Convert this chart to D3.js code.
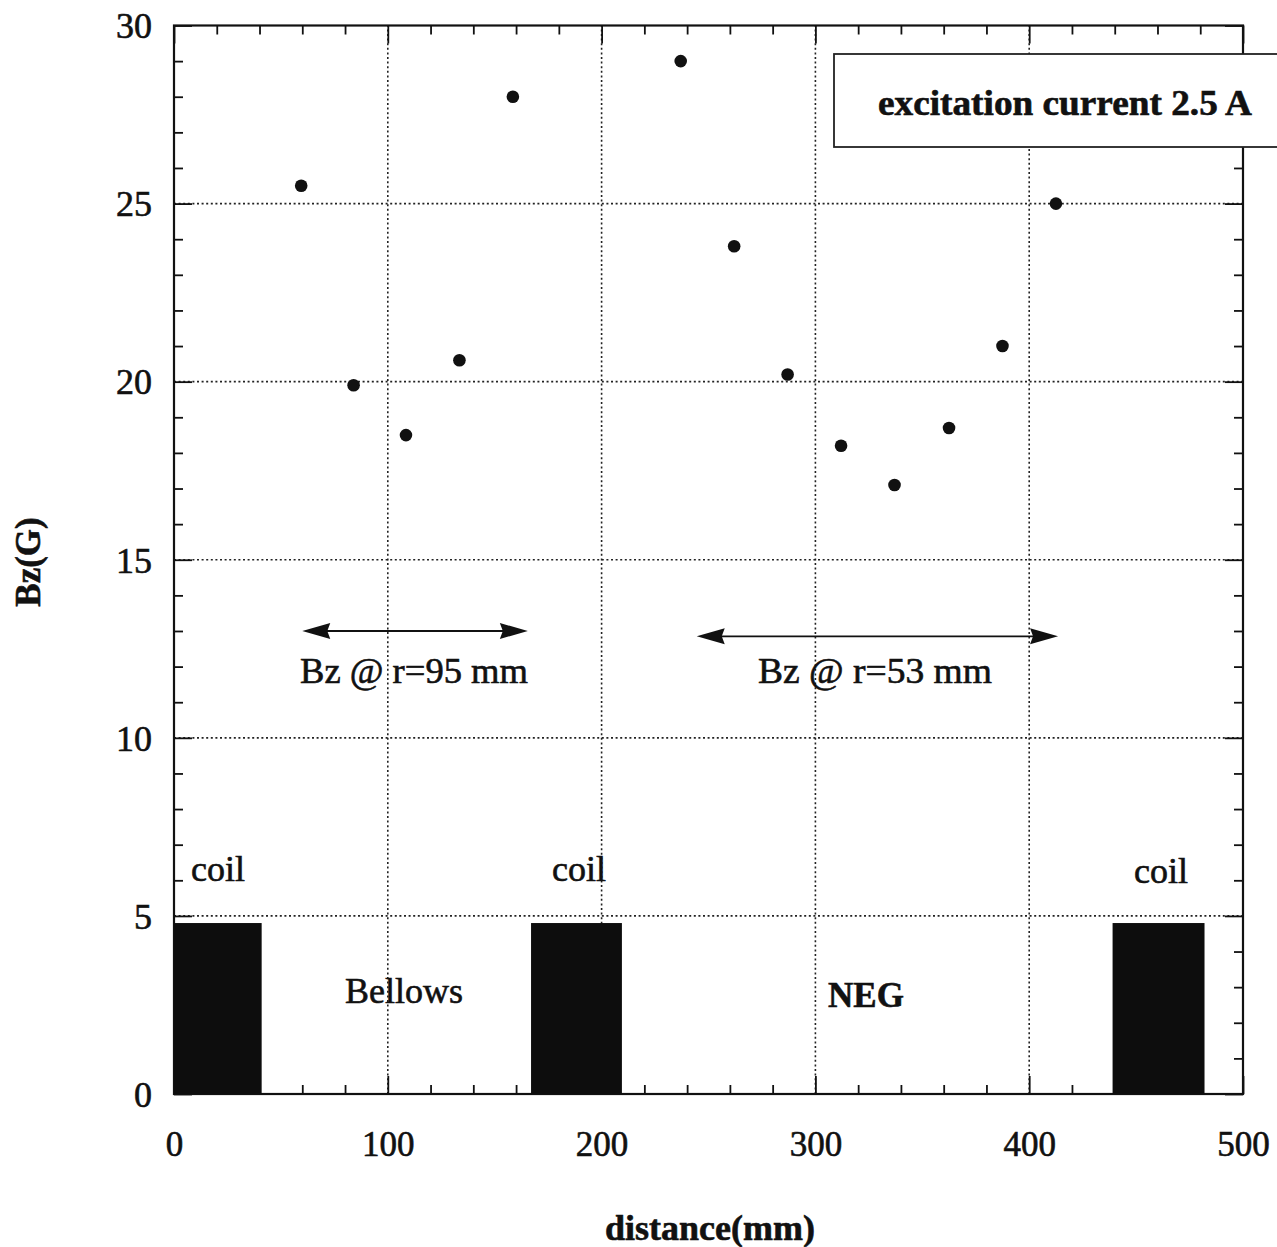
<!DOCTYPE html>
<html>
<head>
<meta charset="utf-8">
<script src="https://cdn.jsdelivr.net/npm/d3@7"></script>
<style>
  html, body { margin: 0; padding: 0; background: #fff; }
  svg { display: block; }
  text { font-family: "Liberation Serif", "Times New Roman", Times, serif; fill: #111; stroke: #111; stroke-width: 0.6px; }
</style>
</head>
<body>
<svg id="chart" width="1277" height="1247"></svg>
<script>
// ---- data ----
const distance = [59.5, 84, 108.5, 133.5, 158.5, 237, 262, 287, 312, 337, 362.5, 387.5, 412.5];
const bz       = [25.5, 19.9, 18.5, 20.6, 28.0, 29.0, 23.8, 20.2, 18.2, 17.1, 18.7, 21.0, 25.0];
const coilStart = [0, 167, 439];
const coilEnd   = [41, 209.5, 482];
const coilTop   = [4.8, 4.8, 4.8];
const xTicks = [0, 100, 200, 300, 400, 500];
const yTicks = [0, 5, 10, 15, 20, 25, 30];
const xMinor = d3.range(0, 501, 20);
const yMinor = d3.range(0, 31, 1);
const arrowFrom = [60, 244.5];
const arrowTo   = [165.5, 413.5];
const arrowY    = [13.0, 12.85];
const arrowLabels = ["Bz @ r=95 mm", "Bz @ r=53 mm"];
const legendText = "excitation current 2.5 A";

// ---- scales ----
const x = d3.scaleLinear().domain([0, 500]).range([174, 1243]);
const y = d3.scaleLinear().domain([0, 30]).range([1094, 25.5]);
const svg = d3.select("#chart");

// grid
const grid = svg.append("g").attr("stroke", "#222").attr("stroke-width", 1.6).attr("stroke-dasharray", "2,2.6");
grid.selectAll("line.vx").data(xTicks.slice(1, -1)).join("line")
  .attr("x1", d => x(d)).attr("x2", d => x(d)).attr("y1", y(0)).attr("y2", y(30));
grid.selectAll("line.hy").data(yTicks.slice(1, -1)).join("line")
  .attr("x1", x(0)).attr("x2", x(500)).attr("y1", d => y(d)).attr("y2", d => y(d));

// axes (ticks pointing inward)
function styleAxis(g) {
  g.select(".domain").remove();
  g.selectAll(".tick line").attr("stroke", "#111").attr("stroke-width", 1.8);
}
const minorX = xMinor.filter(d => d % 100 !== 0);
const minorY = yMinor.filter(d => d % 5 !== 0);

svg.append("g").attr("transform", `translate(0,${y(0)})`)
  .call(d3.axisBottom(x).tickValues(minorX).tickSize(-9).tickFormat("")).call(styleAxis);
svg.append("g").attr("transform", `translate(0,${y(0)})`)
  .call(d3.axisBottom(x).tickValues(xTicks).tickSize(-18).tickFormat(d3.format("d"))).call(styleAxis)
  .selectAll("text").attr("y", 62).attr("dy", 0).style("font-size", "35px").attr("fill", "#111");
svg.append("g").attr("transform", `translate(0,${y(30)})`)
  .call(d3.axisTop(x).tickValues(minorX).tickSize(-9).tickFormat("")).call(styleAxis);
svg.append("g").attr("transform", `translate(0,${y(30)})`)
  .call(d3.axisTop(x).tickValues(xTicks).tickSize(-18).tickFormat("")).call(styleAxis);

svg.append("g").attr("transform", `translate(${x(0)},0)`)
  .call(d3.axisLeft(y).tickValues(minorY).tickSize(-9).tickFormat("")).call(styleAxis);
svg.append("g").attr("transform", `translate(${x(0)},0)`)
  .call(d3.axisLeft(y).tickValues(yTicks).tickSize(-18).tickFormat(d3.format("d"))).call(styleAxis)
  .selectAll("text").attr("x", -22).attr("dy", "0.34em").style("font-size", "36px").attr("fill", "#111");
svg.append("g").attr("transform", `translate(${x(500)},0)`)
  .call(d3.axisRight(y).tickValues(minorY).tickSize(-9).tickFormat("")).call(styleAxis);
svg.append("g").attr("transform", `translate(${x(500)},0)`)
  .call(d3.axisRight(y).tickValues(yTicks).tickSize(-18).tickFormat("")).call(styleAxis);

// frame
svg.append("rect").attr("x", x(0)).attr("y", y(30)).attr("width", x(500) - x(0)).attr("height", y(0) - y(30))
  .attr("fill", "none").attr("stroke", "#111").attr("stroke-width", 2.2);

// coils
svg.append("g").selectAll("rect").data(coilStart).join("rect")
  .attr("x", (d) => x(d)).attr("y", (d, i) => y(coilTop[i]))
  .attr("width", (d, i) => x(coilEnd[i]) - x(d)).attr("height", (d, i) => y(0) - y(coilTop[i]))
  .attr("fill", "#0d0d0d");

// coil labels
const coilLabelX = [218, 579, 1161];
const coilLabelY = [881, 881, 883];
svg.append("g").selectAll("text").data(coilLabelX).join("text")
  .attr("x", d => d).attr("y", (d, i) => coilLabelY[i]).attr("text-anchor", "middle")
  .style("font-size", "36px").text("coil");

svg.append("text").attr("x", 404).attr("y", 1003).attr("text-anchor", "middle")
  .style("font-size", "36px").text("Bellows");
svg.append("text").attr("x", 866).attr("y", 1007).attr("text-anchor", "middle")
  .style("font-size", "35px").style("font-weight", "bold").text("NEG");

// arrows
const arr = svg.append("g");
arrowFrom.forEach((a, i) => {
  const x1 = x(a), x2 = x(arrowTo[i]), yy = y(arrowY[i]);
  const head = 28, hw = 8;
  arr.append("line").attr("x1", x1 + head - 4).attr("x2", x2 - head + 4).attr("y1", yy).attr("y2", yy)
    .attr("stroke", "#111").attr("stroke-width", 1.8);
  arr.append("path").attr("d", `M${x1},${yy} L${x1 + head},${yy - hw} L${x1 + head - 3},${yy} L${x1 + head},${yy + hw} Z`).attr("fill", "#111");
  arr.append("path").attr("d", `M${x2},${yy} L${x2 - head},${yy - hw} L${x2 - head + 3},${yy} L${x2 - head},${yy + hw} Z`).attr("fill", "#111");
});
const labelX = [414, 875];
const labelW = [228, 234];
svg.append("g").selectAll("text").data(arrowLabels).join("text")
  .attr("x", (d, i) => labelX[i] - labelW[i] / 2).attr("y", 683)
  .attr("textLength", (d, i) => labelW[i]).attr("lengthAdjust", "spacingAndGlyphs")
  .style("font-size", "35px").text(d => d);

// points
svg.append("g").selectAll("circle").data(distance).join("circle")
  .attr("cx", d => x(d)).attr("cy", (d, i) => y(bz[i])).attr("r", 6.3).attr("fill", "#111");

// legend box
svg.append("rect").attr("x", 834).attr("y", 54).attr("width", 470).attr("height", 93)
  .attr("fill", "#fff").attr("stroke", "#222").attr("stroke-width", 1.8);
svg.append("text").attr("x", 878).attr("y", 115).attr("textLength", 374).attr("lengthAdjust", "spacingAndGlyphs")
  .style("font-size", "35px").style("font-weight", "bold").text(legendText);

// axis titles
svg.append("text").attr("x", 710).attr("y", 1240).attr("text-anchor", "middle")
  .style("font-size", "36px").style("font-weight", "bold").text("distance(mm)");
svg.append("text").attr("transform", "translate(40,562) rotate(-90)").attr("text-anchor", "middle")
  .style("font-size", "35px").style("font-weight", "bold").text("Bz(G)");
</script>
</body>
</html>
